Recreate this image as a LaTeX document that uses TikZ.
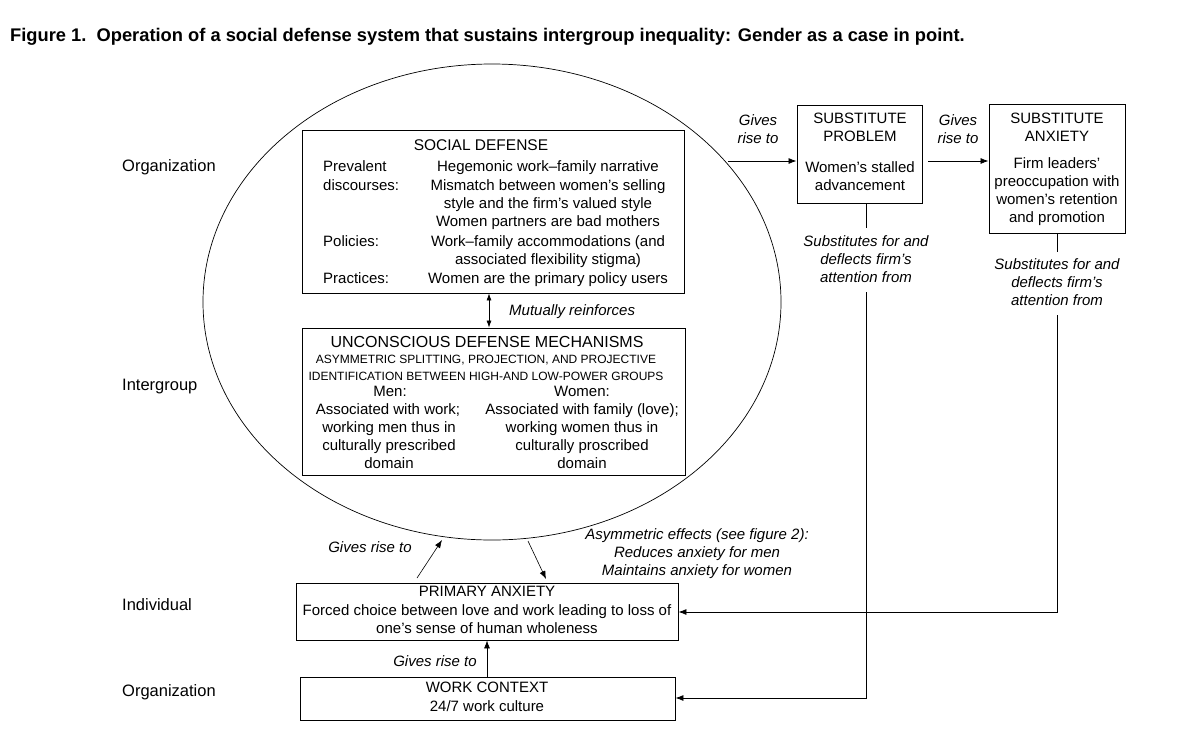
\documentclass[tikz,border=0pt]{standalone}
\usepackage{fontspec}
\setmainfont{Liberation Sans}
\usetikzlibrary{shapes.geometric,arrows.meta}
\tikzset{
  box/.style={draw, line width=0.9pt, inner sep=0pt},
  txt/.style={inner sep=0pt, text height=10.5pt, text depth=3pt, font=\fontsize{15}{18}\selectfont},
  head/.style={inner sep=0pt, text height=11pt, text depth=3pt, font=\fontsize{15.5}{18}\selectfont},
  small/.style={inner sep=0pt, text height=9pt, text depth=2pt, font=\fontsize{12}{14}\selectfont},
  lbl/.style={inner sep=0pt, text height=10.5pt, text depth=3pt, font=\fontsize{15}{18}\selectfont\itshape},
  side/.style={inner sep=0pt, text height=11pt, text depth=3pt, font=\fontsize{16.5}{19}\selectfont, anchor=west},
  conn/.style={line width=0.8pt},
  arr/.style={line width=0.8pt, -{Latex[length=8pt,width=6pt]}},
  arrs/.style={line width=0.6pt, -{Latex[length=8pt,width=6pt]}},
}
\begin{document}
\begin{tikzpicture}[x=1pt,y=-1pt]
\useasboundingbox (0,0) rectangle (1189,753);
% title
\node[anchor=west, inner sep=0pt, font=\fontsize{18.3}{20}\selectfont\bfseries] (title) at (10,37)
  {Figure 1.\ \ Operation of a social defense system that sustains intergroup inequality: Gender as a case in point.};
% side labels
\node[side] (org1) at (122,167) {Organization};
\node[side] (ig) at (122,386) {Intergroup};
\node[side] (ind) at (122,606) {Individual};
\node[side] (org2) at (122,692) {Organization};
% ellipse
\node[draw, line width=0.7pt, ellipse, minimum width=578, minimum height=476, inner sep=0pt] (ell) at (492,302) {};
% social defense box
\node[box, fill=white, minimum width=382, minimum height=163] (sd) at (493,211.5) {};
\node[head] (sdh) at (481,146) {SOCIAL DEFENSE};
\node[txt, anchor=west] (l1) at (323,168) {Prevalent};
\node[txt, anchor=west] (l2) at (323,187) {discourses:};
\node[txt, anchor=west] (l3) at (323,243) {Policies:};
\node[txt, anchor=west] (l4) at (323,280) {Practices:};
\node[txt] (r1) at (548,168) {Hegemonic work–family narrative};
\node[txt] (r2) at (548,187) {Mismatch between women’s selling};
\node[txt] (r3) at (548,205) {style and the firm’s valued style};
\node[txt] (r4) at (548,223) {Women partners are bad mothers};
\node[txt] (r5) at (548,243) {Work–family accommodations (and};
\node[txt] (r6) at (548,261) {associated flexibility stigma)};
\node[txt] (r7) at (548,280) {Women are the primary policy users};
% unconscious box
\node[box, fill=white, minimum width=383, minimum height=147] (ud) at (493.5,401.5) {};
\node[head, font=\fontsize{16}{18}\selectfont] (udh) at (487,343) {UNCONSCIOUS DEFENSE MECHANISMS};
\node[small] (u1) at (486,360) {ASYMMETRIC SPLITTING, PROJECTION, AND PROJECTIVE};
\node[small] (u2) at (486,377) {IDENTIFICATION BETWEEN HIGH-AND LOW-POWER GROUPS};
\node[txt] (m0) at (390,393) {Men:};
\node[txt] (m1) at (388,411) {Associated with work;};
\node[txt] (m2) at (389,429) {working men thus in};
\node[txt] (m3) at (389,447) {culturally prescribed};
\node[txt] (m4) at (389,465) {domain};
\node[txt] (w0) at (582,393) {Women:};
\node[txt] (w1) at (582,411) {Associated with family (love);};
\node[txt] (w2) at (582,429) {working women thus in};
\node[txt] (w3) at (582,447) {culturally proscribed};
\node[txt] (w4) at (582,465) {domain};
% mutually reinforces
\draw[line width=0.6pt, {Latex[length=7pt,width=5pt]}-{Latex[length=7pt,width=5pt]}] (sd.south -| 489,0) -- (ud.north -| 489,0);
\node[lbl, anchor=west] (mr) at (509,312) {Mutually reinforces};
% substitute problem
\node[box, minimum width=125, minimum height=98] (sp) at (859.5,154) {};
\node[txt] (sp1) at (860,120) {SUBSTITUTE};
\node[txt] (sp2) at (860,138) {PROBLEM};
\node[txt] (sp3) at (860,169) {Women’s stalled};
\node[txt] (sp4) at (860,187) {advancement};
% substitute anxiety
\node[box, minimum width=136, minimum height=129] (sa) at (1057,168.5) {};
\node[txt] (sa1) at (1057,120) {SUBSTITUTE};
\node[txt] (sa2) at (1057,138) {ANXIETY};
\node[txt] (sa3) at (1057,165) {Firm leaders’};
\node[txt] (sa4) at (1057,183) {preoccupation with};
\node[txt] (sa5) at (1057,201) {women’s retention};
\node[txt] (sa6) at (1057,219) {and promotion};
% gives rise to arrows top
\coordinate (g1s) at (728,161);
\draw[arr] (g1s) -- (sp.west |- g1s);
\node[lbl] (g1a) at (758,122) {Gives};
\node[lbl] (g1b) at (758,140) {rise to};
\coordinate (g2s) at (928,161);
\draw[arr] (g2s) -- (sa.west |- g2s);
\node[lbl] (g2a) at (958,122) {Gives};
\node[lbl] (g2b) at (958,140) {rise to};
% substitutes labels
\node[lbl] (s1a) at (866,243) {Substitutes for and};
\node[lbl] (s1b) at (866,261) {deflects firm’s};
\node[lbl] (s1c) at (866,279) {attention from};
\node[lbl] (s2a) at (1057,266) {Substitutes for and};
\node[lbl] (s2b) at (1057,284) {deflects firm’s};
\node[lbl] (s2c) at (1057,302) {attention from};
% primary anxiety
\node[box, minimum width=382, minimum height=57] (pa) at (487,611.5) {};
\node[txt] (pa1) at (487,593) {PRIMARY ANXIETY};
\node[txt] (pa2) at (487,612) {Forced choice between love and work leading to loss of};
\node[txt] (pa3) at (487,630) {one’s sense of human wholeness};
% work context
\node[box, minimum width=375, minimum height=43] (wc) at (487.5,698.5) {};
\node[txt] (wc1) at (487,689) {WORK CONTEXT};
\node[txt] (wc2) at (487,708) {24/7 work culture};
% connectors right
\coordinate (c1a) at (866,228);
\coordinate (c1b) at (866,292);
\coordinate (c1c) at (866,698);
\draw[conn] (sp.south -| c1a) -- (c1a);
\draw[arr] (c1b) -- (c1c) -- (wc.east |- c1c);
\coordinate (c2a) at (1057,252);
\coordinate (c2b) at (1057,315);
\coordinate (c2c) at (1057,612);
\draw[conn] (sa.south) -- (c2a);
\draw[arr] (c2b) -- (c2c) -- (pa.east |- c2c);
% bottom arrows
\coordinate (b1s) at (417,578);
\coordinate (b1e) at (442,540);
\draw[arrs] (b1s) -- (b1e);
\node[lbl] (gr1) at (370,549) {Gives rise to};
\coordinate (b2s) at (528,541);
\coordinate (b2e) at (546,579);
\draw[arrs] (b2s) -- (b2e);
\node[lbl] (as1) at (697,536) {Asymmetric effects (see figure 2):};
\node[lbl] (as2) at (697,554) {Reduces anxiety for men};
\node[lbl] (as3) at (697,572) {Maintains anxiety for women};
\draw[arrs] (wc.north -| 487,0) -- (pa.south -| 487,0);
\node[lbl] (gr2) at (435,663) {Gives rise to};
\end{tikzpicture}
\end{document}
